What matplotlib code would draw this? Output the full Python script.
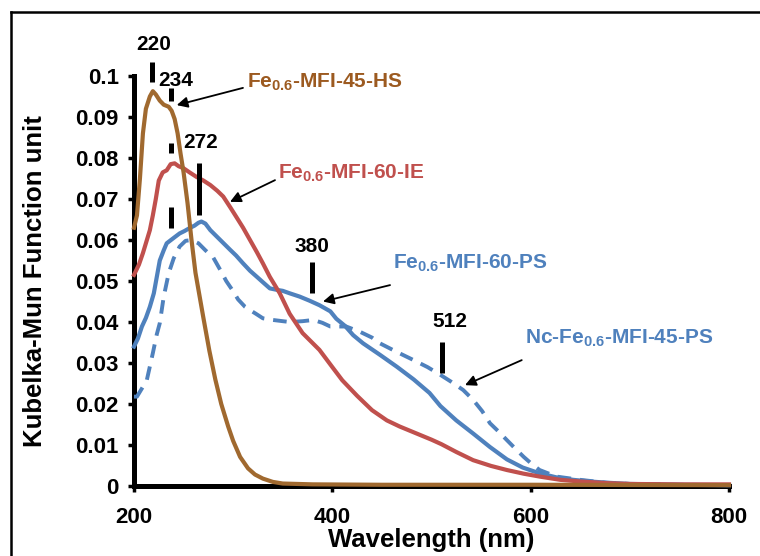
import matplotlib
matplotlib.use("Agg")
import matplotlib.pyplot as plt
from matplotlib.lines import Line2D

plt.rcParams['font.family'] = ['Liberation Sans', 'DejaVu Sans']
plt.rcParams['font.weight'] = 'bold'
plt.rcParams['mathtext.fontset'] = 'custom'
plt.rcParams['mathtext.rm'] = 'Liberation Sans:bold'
plt.rcParams['mathtext.bf'] = 'Liberation Sans:bold'

# Fe0.6-MFI-45-HS
hs_wl = [200, 203, 206, 209, 212, 216, 219, 222, 226, 230, 235, 238, 241, 244, 247,
         250, 254, 258, 262, 266, 270, 276, 282, 288, 295, 300, 307, 315, 322, 330,
         340, 350, 380, 450, 600, 800]
hs_val = [0.063, 0.066, 0.075, 0.086, 0.092, 0.095, 0.0963, 0.0955, 0.094, 0.093,
          0.0925, 0.0915, 0.0895, 0.086, 0.081, 0.0765, 0.069, 0.060, 0.052, 0.0465,
          0.041, 0.033, 0.026, 0.020, 0.0145, 0.011, 0.0071, 0.0043, 0.0028, 0.0018,
          0.001, 0.0006, 0.0004, 0.0003, 0.0003, 0.0002]

# Fe0.6-MFI-60-IE
ie_wl = [200, 205, 209, 213, 216, 219, 222, 225, 229, 233, 237, 241, 245, 250, 256,
         263, 270, 277, 284, 290, 297, 303, 310, 317, 324, 330, 337, 347, 357, 370,
         387, 400, 410, 425, 440, 455, 468, 485, 500, 510, 525, 542, 560, 576, 593,
         609, 630, 650, 677, 700, 750, 800]
ie_val = [0.0515, 0.054, 0.0568, 0.060, 0.0624, 0.066, 0.070, 0.0745, 0.0765, 0.077,
          0.0785, 0.0787, 0.078, 0.0775, 0.0765, 0.0754, 0.0745, 0.0734, 0.072, 0.0706,
          0.068, 0.0657, 0.063, 0.060, 0.057, 0.0543, 0.051, 0.047, 0.042, 0.0373,
          0.0332, 0.029, 0.0258, 0.022, 0.0185, 0.016, 0.0145, 0.0128, 0.0113, 0.0102,
          0.0083, 0.0063, 0.0049, 0.0039, 0.003, 0.0023, 0.0015, 0.0011, 0.0007, 0.0005,
          0.0004, 0.0004]

# Fe0.6-MFI-60-PS
ps_wl = [200, 204, 208, 212, 216, 220, 223, 226, 230, 233, 240, 246, 251, 256, 261,
         265, 268, 272, 277, 282, 287, 292, 297, 303, 310, 317, 324, 330, 337, 345,
         350, 357, 367, 377, 387, 398, 404, 413, 421, 431, 448, 465, 482, 498, 509,
         525, 542, 559, 576, 592, 609, 626, 643, 660, 677, 700, 750, 800]
ps_val = [0.034, 0.036, 0.0389, 0.041, 0.0437, 0.047, 0.051, 0.055, 0.0575, 0.0592,
          0.0605, 0.0616, 0.0622, 0.0629, 0.0635, 0.0642, 0.0645, 0.064, 0.0624, 0.0612,
          0.060, 0.0588, 0.0576, 0.0562, 0.0543, 0.0525, 0.051, 0.0497, 0.0482, 0.0478,
          0.0476, 0.047, 0.0462, 0.0452, 0.0441, 0.0426, 0.0408, 0.039, 0.0368, 0.0348,
          0.032, 0.0291, 0.026, 0.0227, 0.0195, 0.016, 0.0128, 0.0095, 0.0065, 0.0045,
          0.0031, 0.0021, 0.0015, 0.0011, 0.0008, 0.0005, 0.0003, 0.0002]

# Nc-Fe0.6-MFI-45-PS
nc_wl = [200, 203, 208, 213, 219, 223, 226, 230, 235, 240, 246, 252, 258, 265, 272,
         280, 287, 293, 300, 305, 312, 317, 323, 330, 340, 350, 357, 370, 381, 390,
         398, 414, 428, 440, 448, 465, 482, 496, 509, 520, 532, 542, 551, 559, 568,
         576, 585, 593, 601, 609, 626, 650, 676, 700, 750, 800]
nc_val = [0.0218, 0.0218, 0.0238, 0.0259, 0.0324, 0.037, 0.0397, 0.0462, 0.0519, 0.0555,
          0.0584, 0.0598, 0.060, 0.0592, 0.0575, 0.0557, 0.0527, 0.050, 0.0475, 0.0455,
          0.0437, 0.0429, 0.042, 0.0409, 0.0405, 0.0402, 0.040, 0.0402, 0.0405, 0.0398,
          0.0389, 0.0389, 0.0376, 0.0362, 0.0348, 0.0327, 0.0307, 0.029, 0.0271, 0.0254,
          0.0234, 0.021, 0.0183, 0.0153, 0.0132, 0.0112, 0.009, 0.0071, 0.0054, 0.0039,
          0.0023, 0.0015, 0.0008, 0.0005, 0.0003, 0.0002]

x_ticks = [200, 400, 600, 800]
y_ticks = [0, 0.01, 0.02, 0.03, 0.04, 0.05, 0.06, 0.07, 0.08, 0.09, 0.1]
y_tick_labels = ['0', '0.01', '0.02', '0.03', '0.04', '0.05', '0.06', '0.07', '0.08', '0.09', '0.1']

# peak labels: text, text x, text y
peak_labels = [('220', 220.2, 0.1076), ('234', 241.8, 0.0990), ('272', 267.2, 0.0837),
               ('380', 379.2, 0.0584), ('512', 518.7, 0.0401)]
# peak bars: x, ymin, ymax
peak_bars = [(218.2, 0.0985, 0.1034), (237, 0.0940, 0.0970), (237, 0.0812, 0.0837),
             (237, 0.0630, 0.0680), (265.8, 0.0661, 0.0788), (379.2, 0.0470, 0.0547),
             (510.9, 0.0275, 0.0352)]

blue = '#4F81BD'
red = '#C0504D'
brown = '#A0692F'
brown_text = '#9C5A20'

fig = plt.figure(figsize=(7.6, 5.56), dpi=100)
ax = fig.add_axes([0.1763, 0.1259, 0.7829, 0.7374])

ax.plot(nc_wl, nc_val, color=blue, lw=2.8, ls=(0, (3.5, 2.3)), zorder=3, clip_on=False)
ax.plot(ps_wl, ps_val, color=blue, lw=3.0, zorder=3, clip_on=False)
ax.plot(ie_wl, ie_val, color=red, lw=3.0, zorder=3, clip_on=False)
ax.plot(hs_wl, hs_val, color=brown, lw=3.0, zorder=3, clip_on=False)

ax.set_xlim(200, 800)
ax.set_ylim(0, 0.1)
ax.set_xticks(x_ticks)
ax.set_xticklabels([str(t) for t in x_ticks])
ax.set_yticks(y_ticks)
ax.set_yticklabels(y_tick_labels)

for side in ['top', 'right']:
    ax.spines[side].set_visible(False)
for side in ['left', 'bottom']:
    ax.spines[side].set_linewidth(3.6)
ax.tick_params(axis='y', direction='out', length=4, width=2.5, labelsize=16, pad=7)
ax.tick_params(axis='x', direction='out', length=4, width=2.5, labelsize=16, pad=11)

ax.set_xlabel('Wavelength (nm)', fontsize=18.5, fontweight='bold', labelpad=0)
ax.set_ylabel('Kubelka-Mun Function unit', fontsize=18.5, fontweight='bold', labelpad=20)

for txt, tx, ty in peak_labels:
    ax.text(tx, ty, txt, ha='center', va='center', fontsize=15, fontweight='bold',
            clip_on=False)
for bx, b0, b1 in peak_bars:
    ax.vlines(bx, b0, b1, color='black', lw=3.6, clip_on=False, zorder=4)

labels = [(r'Fe$_{0.6}$-MFI-45-HS', 313.6, 0.0986, brown_text, (243.1, 0.0929), (309.9, 0.0971)),
          (r'Fe$_{0.6}$-MFI-60-IE', 345.2, 0.0763, red, (296.8, 0.0693), (342.2, 0.0746)),
          (r'Fe$_{0.6}$-MFI-60-PS', 461.2, 0.0544, blue, (390.6, 0.0450), (458.2, 0.0490)),
          (r'Nc-Fe$_{0.6}$-MFI-45-PS', 594.3, 0.0361, blue, (533.8, 0.0246), (591.0, 0.0307))]
for txt, tx, ty, col, head, tail in labels:
    ax.text(tx, ty, txt, ha='left', va='center', fontsize=15, fontweight='bold',
            color=col, clip_on=False)
    ax.annotate('', xy=head, xytext=tail,
                arrowprops=dict(arrowstyle='-|>', color='black', lw=1.3,
                                mutation_scale=16, shrinkA=0, shrinkB=0))

# partial frame around the figure
fig.add_artist(Line2D([0.0145, 0.0145], [0.0, 0.978], color='black', lw=1.8,
                      transform=fig.transFigure))
fig.add_artist(Line2D([0.0145, 1.0], [0.978, 0.978], color='black', lw=1.8,
                      transform=fig.transFigure))

fig.savefig('out.png', dpi=100)
